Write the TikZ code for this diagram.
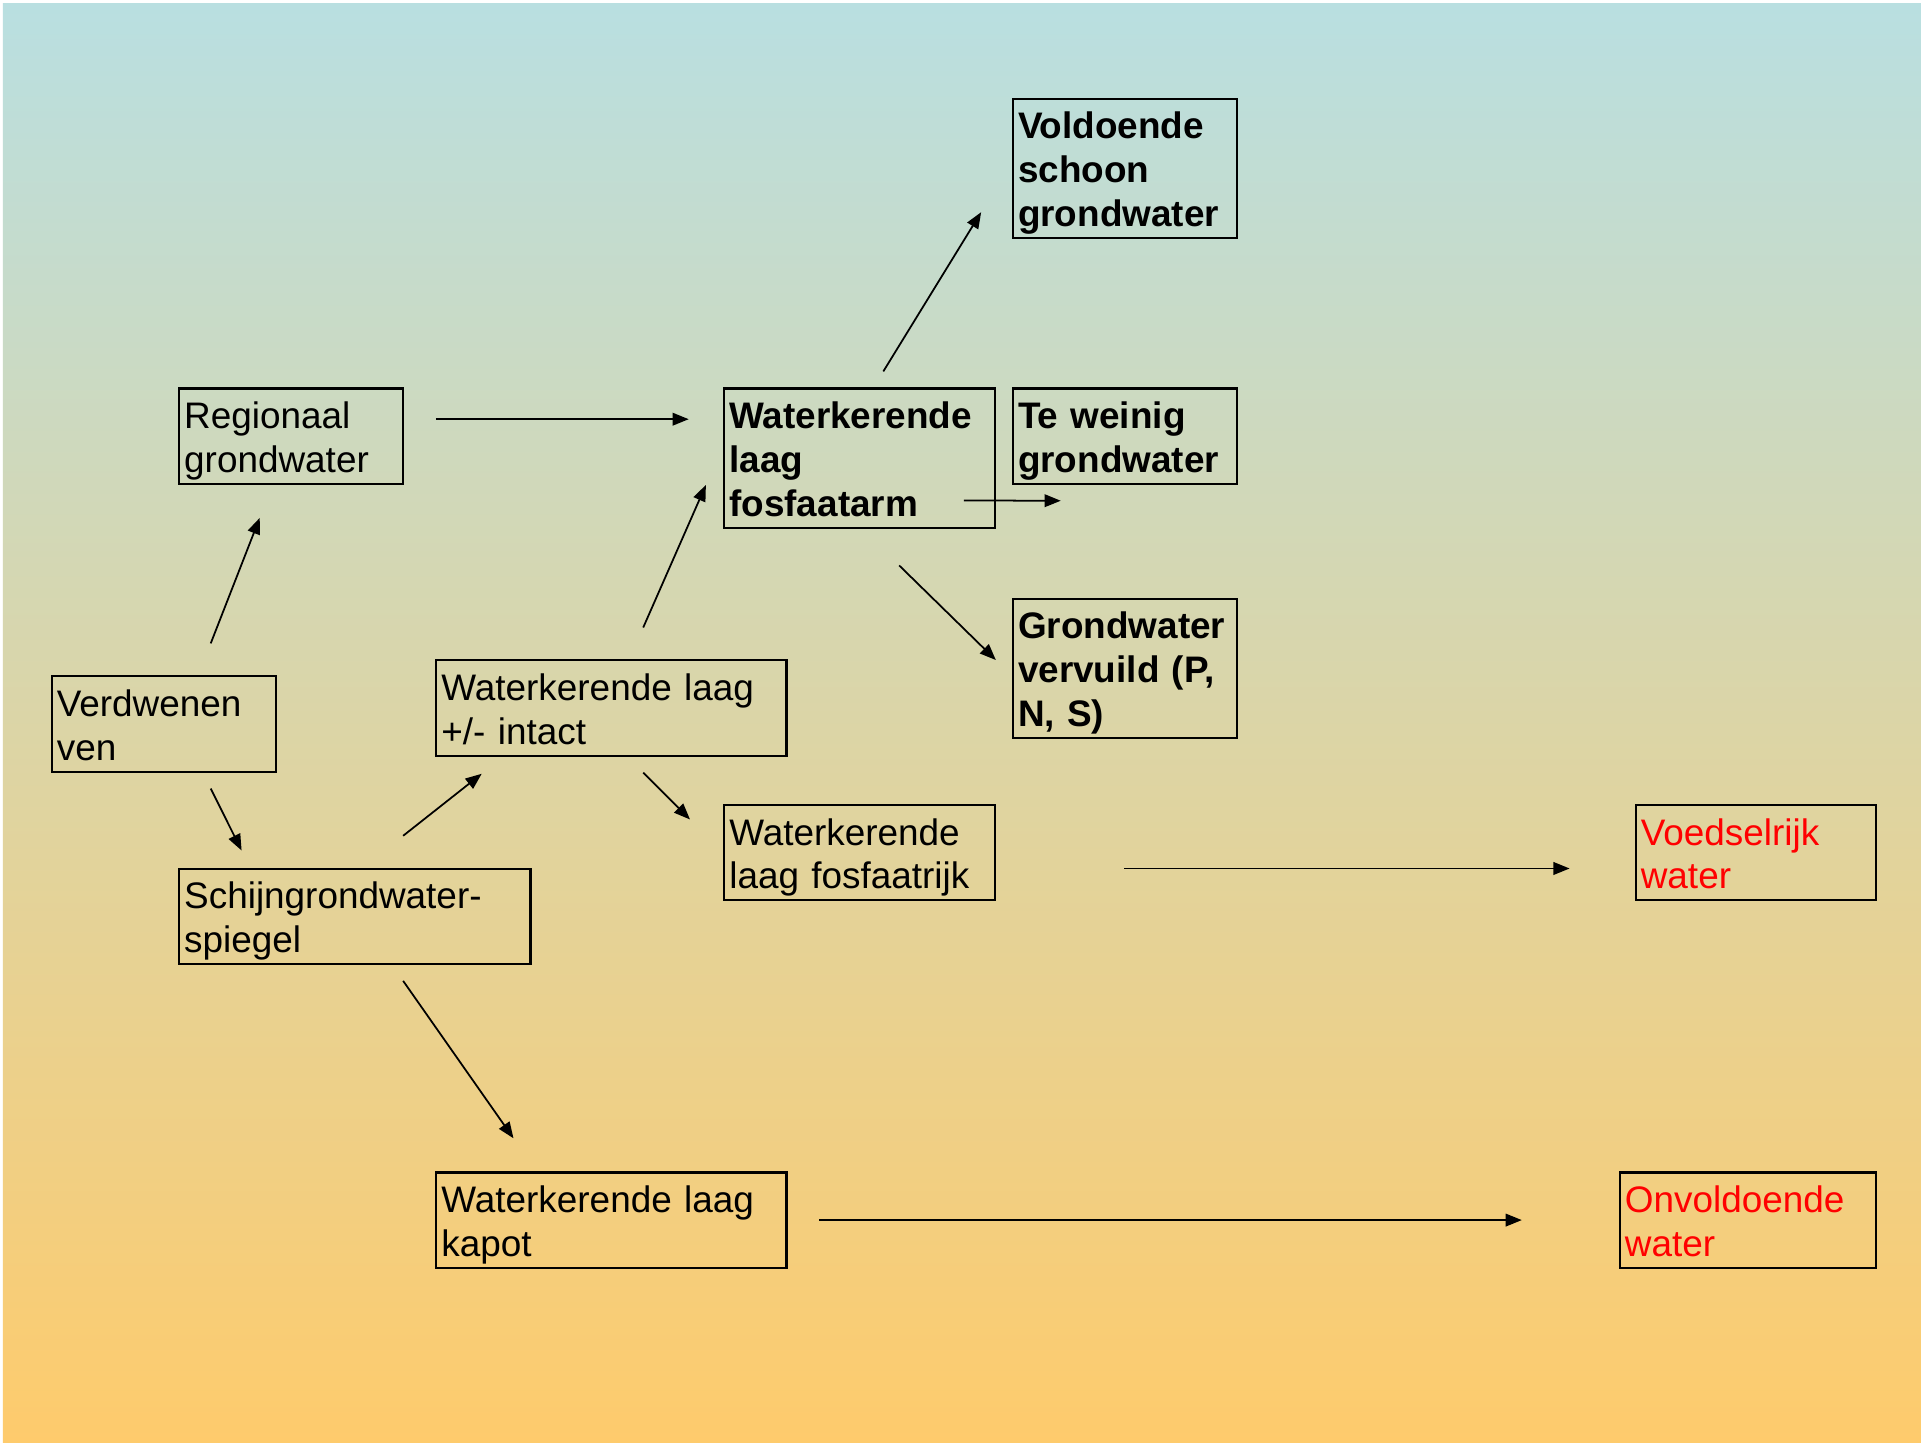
\documentclass[tikz,border=0pt]{standalone}
\usepackage{fontspec}
\setmainfont{Liberation Sans}
\usepackage{xcolor}
\usepackage{tikz}
\usetikzlibrary{positioning, arrows.meta}
\definecolor{skytop}{RGB}{185,223,225}
\definecolor{sandbot}{RGB}{254,203,108}
\newcommand{\boxfont}{\fontsize{10.5}{12.5}\selectfont}
\tikzset{
  plainbox/.style = {draw=black, line width=0.6pt, anchor=north west,
                     align=left, inner xsep=1.5pt, inner ysep=1pt,
                     font=\boxfont, text width=#1,
                     execute at begin node={\rule{0pt}{10.4pt}},
                     execute at end node={\rule[-2.2pt]{0pt}{0pt}}},
  boldbox/.style  = {plainbox=#1, font=\boxfont\bfseries},
  redbox/.style   = {plainbox=#1, text=red},
  arr/.style      = {-{Triangle[length=4.6pt, width=3.6pt]}, line width=0.5pt}
}

\begin{document}
\begin{tikzpicture}
  % Background
  \useasboundingbox (0,0) rectangle (19.21,-14.43);
  \fill[white] (0,0) rectangle (19.21,-14.43);
  \shade[top color=skytop, bottom color=sandbot] (0.03,-0.03) rectangle (19.21,-14.43);

  % Left column
  \node[plainbox=2.136cm] (reg) at (1.779,-3.874) {Regionaal\\grondwater};
  \node[plainbox=2.136cm] (ven) at (0.505,-6.753) {Verdwenen\\ven};
  \node[plainbox=3.41cm] (schijn) at (1.779,-8.676) {Schijngrondwater-\\spiegel};

  % Middle
  \node[plainbox=3.398cm] (intact) at (4.351,-6.593) {Waterkerende laag\\+/- intact};
  \node[plainbox=3.398cm] (kapot) at (4.351,-11.714) {Waterkerende laag\\kapot};
  \node[boldbox=2.602cm] (arm) at (7.230,-3.874) {Waterkerende\\laag\\fosfaatarm};
  \node[plainbox=2.602cm] (rijk) at (7.230,-8.039) {Waterkerende\\laag fosfaatrijk};

  % Outcomes
  \node[boldbox=2.136cm, below right=0cm and 0.159cm of arm.north east]
    (weinig) {Te weinig\\grondwater};
  \node[boldbox=2.136cm, above right=1.483cm and 0cm of weinig.north west]
    (schoon) {Voldoende\\schoon\\grondwater};
  \node[boldbox=2.136cm, below right=1.127cm and 0cm of weinig.south west]
    (vervuild) {Grondwater\\vervuild (P,\\N, S)};
  \node[redbox=2.295cm] (voedsel) at (16.345,-8.039) {Voedselrijk\\water};
  \node[redbox=2.454cm] (onvold) at (16.186,-11.714) {Onvoldoende\\water};

  % Arrows
  \draw[arr] ([xshift=0.318cm,yshift=-0.318cm]reg.north east) -- ([xshift=-0.343cm,yshift=-0.318cm]arm.north west);
  \draw[arr] ([xshift=0.239cm,yshift=0.160cm]arm.north) -- ([xshift=-0.306cm,yshift=0.269cm]schoon.south west);
  \draw[arr] ([xshift=-0.319cm,yshift=0.282cm]arm.south east) -- ([xshift=0.490cm,yshift=-0.159cm]weinig.south west);
  \draw[arr] ([xshift=0.398cm,yshift=-0.368cm]arm.south) -- ([xshift=-0.159cm,yshift=-0.625cm]vervuild.north west);
  \draw[arr] ([xshift=0.471cm,yshift=0.319cm]ven.north) -- ([xshift=-0.313cm,yshift=-0.331cm]reg.south);
  \draw[arr] ([xshift=0.471cm,yshift=-0.159cm]ven.south) -- ([xshift=0.637cm,yshift=0.171cm]schijn.north west);
  \draw[arr] ([xshift=0.484cm,yshift=0.318cm]schijn.north) -- ([xshift=0.466cm,yshift=-0.171cm]intact.south west);
  \draw[arr] ([xshift=0.319cm,yshift=0.318cm]intact.north) -- ([xshift=-0.171cm,yshift=-0.269cm]arm.west);
  \draw[arr] ([xshift=0.319cm,yshift=-0.159cm]intact.south) -- ([xshift=-0.330cm,yshift=0.331cm]rijk.west);
  \draw[arr] ([xshift=1.286cm,yshift=-0.159cm]rijk.east) -- ([xshift=-0.649cm,yshift=-0.159cm]voedsel.west);
  \draw[arr] ([xshift=0.484cm,yshift=-0.159cm]schijn.south) -- ([xshift=0.784cm,yshift=0.331cm]kapot.north west);
  \draw[arr] ([xshift=0.319cm]kapot.east) -- ([xshift=-0.968cm]onvold.west);
\end{tikzpicture}
\end{document}
